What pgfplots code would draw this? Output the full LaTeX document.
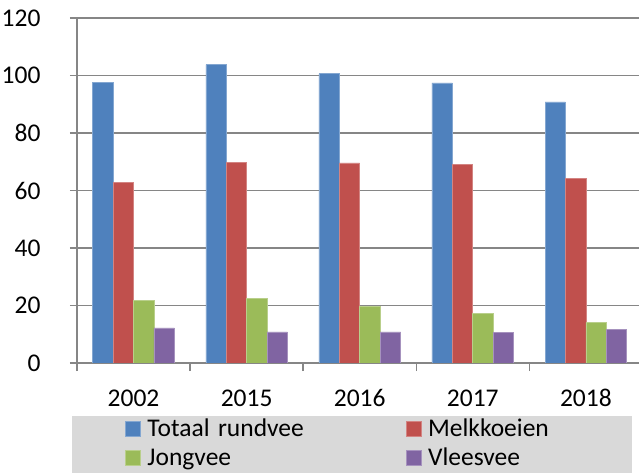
\documentclass[border=0pt]{standalone}
\usepackage{fontspec}
\setmainfont{Carlito}
\usepackage{pgfplots}
\pgfplotsset{compat=1.18}
\definecolor{cBlue}{HTML}{4F81BD}
\definecolor{cRed}{HTML}{C0504D}
\definecolor{cGreen}{HTML}{9BBB59}
\definecolor{cPurple}{HTML}{8064A2}
\definecolor{cGrid}{HTML}{868686}
\definecolor{cLeg}{HTML}{D9D9D9}
\begin{document}
\fontsize{25}{30}\selectfont
\begin{tikzpicture}
\fill[cLeg] (-5pt,-53pt) rectangle (555pt,-115pt);
\begin{axis}[
  scale only axis,
  width=562pt, height=345pt,
  xmin=-0.5, xmax=4.47,
  ymin=0, ymax=120,
  ytick={0,20,...,120},
  xtick={0,1,2,3,4},
  xticklabels={2002,2015,2016,2017,2018},
  minor xtick={-0.5,0.5,1.5,2.5,3.5},
  major x tick style={draw=none},
  minor tick length=8pt,
  major tick length=7pt,
  tick align=outside,
  tick style={cGrid, line width=1.4pt},
  axis x line*=bottom,
  axis y line*=left,
  axis line style={cGrid, line width=1.4pt, -},
  ymajorgrids,
  major grid style={cGrid, line width=1.4pt},
  /pgf/number format/assume math mode=true,
  ticklabel style={font=\fontsize{25.5}{30}\selectfont},
  yticklabel style={xshift=-21pt},
  xticklabel style={yshift=-11pt},
  ybar=0pt,
  bar width=20.4pt,
  legend image code/.code={\fill[#1] (0pt,-6pt) rectangle (15pt,9pt);},
  legend columns=2,
  legend style={
    at={([xshift=48pt,yshift=-55pt]axis description cs:0,0)},
    anchor=north west,
    draw=none, fill=none,
    inner sep=0pt,
    row sep=4.8pt,
    font=\fontsize{25.5}{30}\selectfont,
    nodes={inner xsep=0pt, inner ysep=0pt, text height=18pt, text depth=6pt, text width=200pt, align=left},
    /tikz/column 1/.style={column sep=6.7pt},
    /tikz/column 2/.style={column sep=58.3pt},
    /tikz/column 3/.style={column sep=6.7pt},
  },
  legend cell align=left,
]
\addplot[fill=cBlue, draw=cBlue!70!white, line width=0.6pt] coordinates {(0,97.5) (1,103.8) (2,100.6) (3,97.4) (4,90.8)};
\addplot[fill=cRed, draw=cRed!70!white, line width=0.6pt] coordinates {(0,62.7) (1,69.9) (2,69.6) (3,69.2) (4,64.2)};
\addplot[fill=cGreen, draw=cGreen!70!white, line width=0.6pt] coordinates {(0,21.9) (1,22.6) (2,19.8) (3,17.3) (4,14.1)};
\addplot[fill=cPurple, draw=cPurple!70!white, line width=0.6pt] coordinates {(0,12.2) (1,10.8) (2,10.8) (3,10.7) (4,11.8)};
\legend{Totaal rundvee, Melkkoeien, Jongvee, Vleesvee}
\end{axis}
\pgfresetboundingbox
\path[use as bounding box] (-77pt,-110pt) rectangle (562pt,363pt);
\end{tikzpicture}
\end{document}
